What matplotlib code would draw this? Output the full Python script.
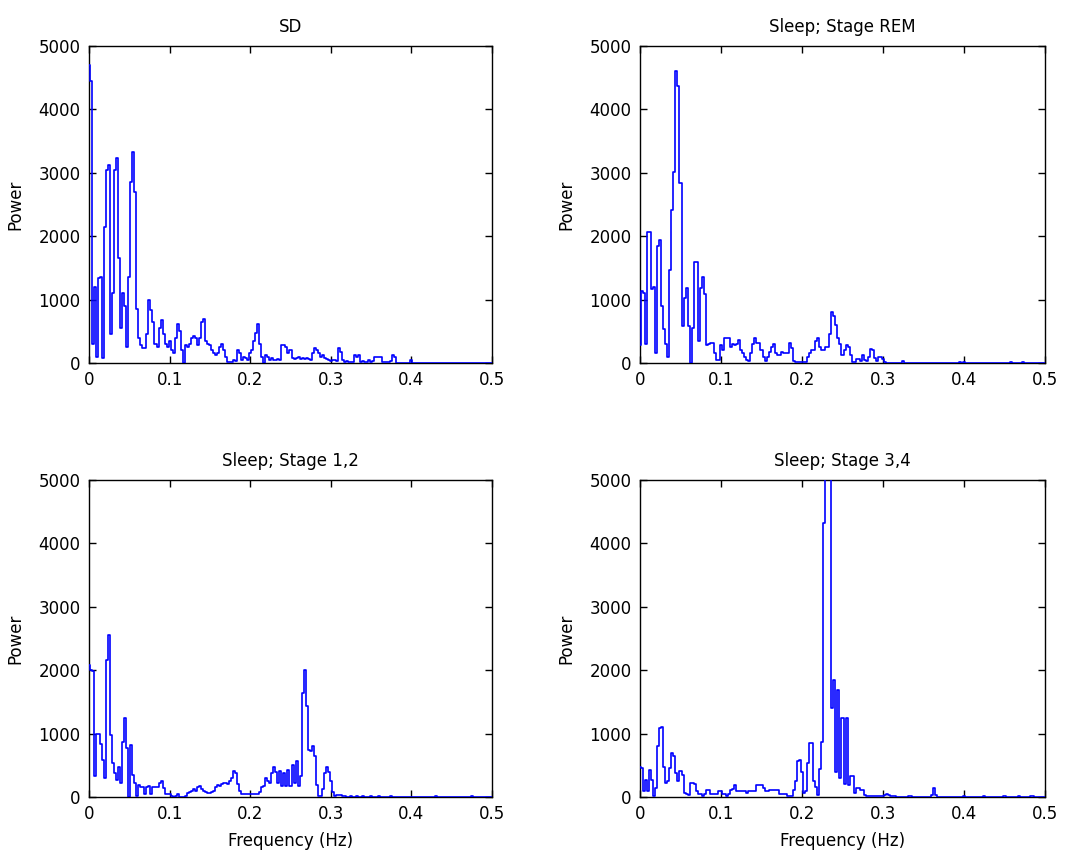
import numpy as np
import matplotlib
matplotlib.use('Agg')
from matplotlib import pyplot as plt

# frequency grid, 0.0025 Hz steps from 0 to 0.5 Hz
freq = np.arange(201) * 0.0025

# power spectra (one row = 0.05 Hz)
sd = [4700, 4450, 300, 1200, 100, 1340, 1350, 80, 2150, 3050, 3130, 450, 1100, 3050, 3240, 1650, 550, 1100, 900, 250,
      1360, 2850, 3330, 2700, 850, 400, 280, 230, 230, 450, 1000, 830, 650, 300, 250, 550, 680, 450, 300, 250,
      350, 200, 150, 400, 620, 500, 200, 0, 280, 250, 300, 400, 420, 400, 280, 400, 650, 700, 350, 300,
      280, 200, 150, 120, 150, 250, 300, 200, 100, 20, 10, 20, 50, 30, 200, 150, 50, 100, 80, 50,
      150, 200, 350, 480, 620, 300, 100, 0, 120, 100, 50, 80, 50, 50, 60, 50, 280, 280, 260, 150,
      200, 80, 60, 80, 100, 60, 80, 60, 80, 60, 50, 150, 230, 200, 150, 100, 120, 80, 60, 40,
      30, 50, 40, 30, 230, 180, 50, 20, 30, 20, 20, 20, 120, 100, 120, 20, 30, 10, 20, 40,
      20, 30, 95, 95, 95, 95, 20, 10, 20, 10, 30, 120, 100, 5, 0, 0, 0, 0, 0, 0,
      50, 0, 0, 0, 0, 0, 0, 0, 0, 0, 0, 0, 0, 0, 0, 0, 0, 0, 0, 0,
      0, 0, 0, 0, 0, 0, 0, 0, 0, 0, 0, 0, 0, 0, 0, 0, 0, 0, 0, 0,
      0]

rem = [290, 1140, 1100, 300, 2070, 2070, 1170, 1200, 150, 1850, 1935, 900, 530, 300, 100, 1460, 2410, 3020, 4610, 4370,
       2835, 580, 1030, 1190, 580, 0, 555, 1590, 1590, 345, 1190, 1350, 1090, 290, 300, 320, 320, 150, 50, 50,
       290, 200, 400, 400, 400, 250, 300, 280, 300, 370, 200, 150, 100, 50, 30, 150, 300, 400, 320, 320,
       200, 100, 30, 100, 180, 250, 300, 150, 130, 130, 180, 160, 150, 160, 320, 240, 30, 20, 20, 20,
       20, 20, 20, 100, 150, 200, 200, 350, 400, 250, 200, 200, 250, 250, 450, 800, 740, 600, 400, 300,
       120, 200, 280, 250, 120, 15, 15, 70, 70, 30, 120, 40, 30, 100, 220, 200, 80, 30, 100, 100,
       60, 10, 0, 0, 0, 0, 0, 0, 0, 0, 30, 0, 0, 0, 0, 0, 0, 0, 0, 0,
       0, 0, 0, 0, 0, 0, 0, 0, 0, 0, 0, 0, 0, 0, 0, 0, 0, 0, 20, 0,
       20, 0, 0, 0, 0, 0, 0, 0, 0, 0, 0, 0, 0, 0, 0, 0, 0, 0, 0, 0,
       0, 0, 0, 15, 0, 0, 0, 0, 0, 20, 0, 0, 0, 0, 0, 0, 0, 0, 0, 0,
       0]

stage12 = [2085, 2000, 1980, 325, 1000, 1000, 830, 590, 300, 2160, 2555, 980, 535, 380, 270, 480, 220, 875, 1245, 770,
           0, 825, 350, 220, 10, 195, 150, 160, 40, 150, 170, 40, 160, 150, 160, 220, 250, 140, 40, 40,
           40, 20, 0, 20, 40, 0, 0, 0, 20, 60, 80, 100, 120, 100, 150, 170, 120, 100, 80, 60,
           60, 80, 100, 160, 195, 170, 200, 220, 220, 200, 250, 300, 405, 380, 200, 90, 40, 40, 40, 40,
           40, 40, 40, 40, 40, 80, 150, 170, 300, 250, 220, 380, 480, 400, 220, 405, 170, 380, 170, 430,
           170, 510, 220, 560, 170, 325, 1640, 2005, 1430, 745, 720, 800, 640, 195, 10, 20, 120, 380, 480, 400,
           250, 80, 20, 25, 25, 25, 20, 10, 5, 0, 15, 0, 0, 10, 0, 0, 15, 0, 0, 0,
           15, 0, 0, 0, 20, 0, 0, 0, 0, 0, 10, 0, 0, 0, 0, 0, 0, 0, 0, 0,
           0, 0, 0, 0, 0, 0, 0, 0, 0, 0, 0, 0, 20, 0, 0, 0, 0, 0, 0, 0,
           0, 0, 0, 0, 0, 0, 0, 0, 0, 0, 15, 0, 0, 0, 0, 0, 0, 0, 0, 0,
           0]

stage34 = [480, 460, 90, 270, 90, 430, 270, 20, 140, 800, 1090, 1110, 480, 220, 250, 460, 690, 640, 380, 250,
           405, 350, 60, 40, 30, 220, 220, 200, 90, 40, 40, 10, 50, 115, 115, 40, 40, 40, 40, 90,
           90, 40, 40, 10, 40, 115, 120, 195, 90, 90, 90, 90, 90, 60, 90, 90, 90, 90, 195, 195,
           195, 140, 90, 90, 110, 110, 110, 110, 110, 40, 40, 40, 40, 20, 10, 20, 115, 250, 560, 590,
           400, 60, 100, 535, 850, 850, 250, 150, 30, 440, 875, 4315, 6500, 6500, 6500, 1400, 1850, 400, 1690, 300,
           1245, 200, 1245, 195, 325, 325, 60, 140, 140, 110, 110, 30, 20, 10, 10, 20, 10, 10, 10, 10,
           20, 30, 40, 30, 10, 10, 10, 0, 0, 0, 0, 0, 0, 20, 20, 0, 0, 0, 0, 0,
           0, 0, 0, 0, 30, 140, 30, 0, 0, 0, 0, 0, 0, 0, 0, 0, 0, 0, 0, 0,
           10, 0, 0, 0, 0, 0, 0, 0, 0, 0, 10, 0, 0, 0, 0, 0, 0, 0, 0, 0,
           10, 0, 0, 0, 0, 0, 0, 15, 0, 0, 0, 0, 0, 20, 20, 0, 0, 0, 0, 0,
           0]

titles = ['SD', 'Sleep; Stage REM', 'Sleep; Stage 1,2', 'Sleep; Stage 3,4']
spectra = [sd, rem, stage12, stage34]
xticks = [0, 0.1, 0.2, 0.3, 0.4, 0.5]
yticks = [0, 1000, 2000, 3000, 4000, 5000]

plt.rcParams['font.family'] = 'DejaVu Sans'
plt.rcParams['font.size'] = 12

fig = plt.figure(figsize=(10.66, 8.59), dpi=100)
W, H = 1066, 859
# axes boxes in pixels: left, top, right, bottom
boxes = [(89, 46, 492, 363), (640, 46, 1045, 363),
         (89, 480, 492, 797), (640, 480, 1045, 797)]

for k in range(4):
    l, t, r, b = boxes[k]
    ax = fig.add_axes([l / W, 1 - b / H, (r - l) / W, (b - t) / H])
    # line on top of the spines so the zero baseline shows blue like matlab
    ax.plot(freq, spectra[k], color='#0000ff', lw=1.2, drawstyle='steps-mid', zorder=3)
    ax.set_xlim(0, 0.5)
    ax.set_ylim(0, 5000)
    ax.set_xticks(xticks)
    ax.set_xticklabels(['0', '0.1', '0.2', '0.3', '0.4', '0.5'])
    ax.set_yticks(yticks)
    ax.tick_params(direction='in', top=True, right=True, length=5, width=1, pad=6)
    for s in ax.spines.values():
        s.set_linewidth(1)
    ax.set_title(titles[k], fontsize=12, pad=10)
    ax.set_ylabel('Power', labelpad=10)
    if k >= 2:
        ax.set_xlabel('Frequency (Hz)', labelpad=6)

fig.savefig('out.png', dpi=100)
